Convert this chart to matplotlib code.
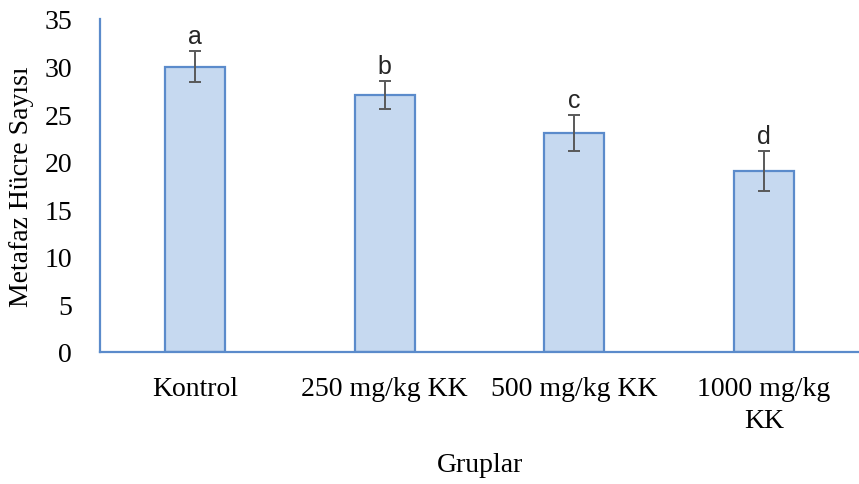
import matplotlib
matplotlib.use("Agg")
import matplotlib.pyplot as plt

categories = ["Kontrol", "250 mg/kg KK", "500 mg/kg KK", "1000 mg/kg\nKK"]
means = [30.0, 27.0, 23.0, 19.0]
errors = [1.6, 1.45, 1.9, 2.1]
letters = ["a", "b", "c", "d"]
yticks = [0, 5, 10, 15, 20, 25, 30, 35]

serif = ["Liberation Serif", "DejaVu Serif"]
fig = plt.figure(figsize=(8.59, 4.85), dpi=100)
ax = fig.add_axes([0.1164, 0.2722, 0.8836, 0.6866])

x = list(range(len(categories)))
ax.bar(x, means, width=0.316, color="#C6D9F0", edgecolor="#5B8BCB", linewidth=1.6, zorder=2)
ax.errorbar(x, means, yerr=errors, fmt="none", ecolor="#595959", elinewidth=1.4,
            capsize=4, capthick=1.4, zorder=3)
for xi, m, e, l in zip(x, means, errors, letters):
    ax.text(xi, m + e + 0.9, l, ha="center", va="baseline", fontsize=18,
            family=["Liberation Sans", "DejaVu Sans"], color="#262626")

ax.set_xlim(-0.5, 3.5)
ax.set_ylim(0, 35)
ax.set_yticks(yticks)
ax.set_yticklabels([str(t) for t in yticks], family=serif, fontsize=20)
ax.set_xticks(x)
ax.set_xticklabels(categories, family=serif, fontsize=20, va="top", linespacing=1.4)
ax.tick_params(axis="y", length=0, pad=20)
ax.tick_params(axis="x", length=0, pad=17)
for s in ["top", "right"]:
    ax.spines[s].set_visible(False)
for s in ["left", "bottom"]:
    ax.spines[s].set_color("#5B8BCB")
    ax.spines[s].set_linewidth(1.6)

fig.text(0.5585, 1 - 466 / 485, "Gruplar", ha="center", va="center", family=serif, fontsize=20)
fig.text(22 / 859, 1 - 187 / 485, "Metafaz Hücre Sayısı", ha="center", va="center",
         rotation=90, family=serif, fontsize=20)

fig.savefig("out.png", dpi=100)
